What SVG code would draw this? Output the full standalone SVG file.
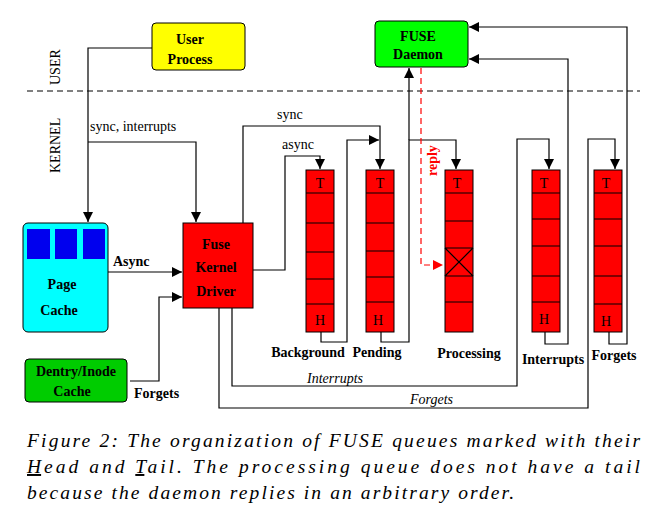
<svg xmlns="http://www.w3.org/2000/svg" width="655" height="520" viewBox="0 0 655 520" font-family="'Liberation Serif', 'DejaVu Serif', serif">
<style>
text{font-family:'Liberation Serif','DejaVu Serif',serif;fill:#000}
.b{font-weight:bold;font-size:14px}
.lbl{font-size:14px}
.it{font-style:italic;font-size:14px}
.cap{font-style:italic;font-size:19.5px}
.ln{fill:none;stroke:#000;stroke-width:1.2}
.q{fill:#ff0000;stroke:#000;stroke-width:1}
.qt{font-size:14px;text-anchor:middle}
</style>
<defs>
<marker id="a" viewBox="0 0 10 10" refX="10" refY="5" markerWidth="10" markerHeight="10" markerUnits="userSpaceOnUse" orient="auto"><path d="M0,0L10,5L0,10z" fill="#000"/></marker>
<marker id="r" viewBox="0 0 10 10" refX="10" refY="5" markerWidth="10" markerHeight="10" markerUnits="userSpaceOnUse" orient="auto"><path d="M0,0L10,5L0,10z" fill="#f00"/></marker>
</defs>
<rect width="655" height="520" fill="#fff"/>
<line x1="27" y1="91" x2="640" y2="91" stroke="#000" stroke-dasharray="6,4"/>
<text class="lbl" transform="translate(60,85) rotate(-90)">USER</text>
<text class="lbl" transform="translate(60,173) rotate(-90)">KERNEL</text>
<g id="connectors">
<path class="ln" d="M152,48H88V222" marker-end="url(#a)"/>
<path class="ln" d="M88,142H196V222" marker-end="url(#a)"/>
<path class="ln" d="M108,272H182" marker-end="url(#a)"/>
<path class="ln" d="M130,381H159V297H182" marker-end="url(#a)"/>
<path class="ln" d="M243,223V126H380V169" marker-end="url(#a)"/>
<path class="ln" d="M253,270H285V156H320V169" marker-end="url(#a)"/>
<path class="ln" d="M321,332V342H347V140H379" marker-end="url(#a)"/>
<path class="ln" d="M381,332V342H409V140H456V169" marker-end="url(#a)"/>
<path class="ln" d="M409,140V68" marker-end="url(#a)"/>
<path class="ln" d="M232,308V386H517V139H549V169" marker-end="url(#a)"/>
<path class="ln" d="M219,308V408H588V139H615V169" marker-end="url(#a)"/>
<path class="ln" d="M545,332V344H568V59H469" marker-end="url(#a)"/>
<path class="ln" d="M609,332V344H627V27H469" marker-end="url(#a)"/>
<path d="M421,68V265H443" fill="none" stroke="#f00" stroke-width="1.2" stroke-dasharray="6,4" marker-end="url(#r)"/>
<text transform="translate(437,176) rotate(-90)" style="font-weight:bold;font-size:14px;fill:#f00">reply</text>
<text class="b" x="113" y="266">Async</text>
<text class="b" x="134" y="398">Forgets</text>
<text class="lbl" x="90" y="131">sync, interrupts</text>
<text class="lbl" x="277" y="119">sync</text>
<text class="lbl" x="282" y="149">async</text>
<text class="it" x="307" y="383">Interrupts</text>
<text class="it" x="410" y="404">Forgets</text>
</g>
<g id="user-process">
<rect x="152" y="23" width="93" height="47" rx="4" fill="#ffff00" stroke="#000"/>
<text class="b" x="190" y="44" text-anchor="middle">User</text>
<text class="b" x="190" y="64" text-anchor="middle">Process</text>
</g>
<g id="fuse-daemon">
<rect x="375" y="21" width="93" height="46" rx="4" fill="#00ff00" stroke="#000"/>
<text class="b" x="418" y="41" text-anchor="middle">FUSE</text>
<text class="b" x="418" y="59" text-anchor="middle">Daemon</text>
</g>
<g id="page-cache">
<rect x="23" y="223" width="85" height="109" rx="5" fill="#00ffff" stroke="#000"/>
<rect x="27" y="229" width="23" height="30" fill="#0000ee"/>
<rect x="55" y="229" width="22" height="30" fill="#0000ee"/>
<rect x="83" y="229" width="22" height="30" fill="#0000ee"/>
<text class="b" x="62" y="289" text-anchor="middle">Page</text>
<text class="b" x="59" y="315" text-anchor="middle">Cache</text>
</g>
<g id="driver">
<rect x="183" y="223" width="70" height="85" fill="#ff0000" stroke="#000"/>
<text class="b" x="216" y="249" text-anchor="middle">Fuse</text>
<text class="b" x="216" y="272" text-anchor="middle">Kernel</text>
<text class="b" x="216" y="296" text-anchor="middle">Driver</text>
</g>
<g id="dentry">
<rect x="25" y="359" width="102" height="43" rx="4" fill="#00cc00" stroke="#000"/>
<text class="b" x="76" y="376" text-anchor="middle">Dentry/Inode</text>
<text class="b" x="72" y="396" text-anchor="middle">Cache</text>
</g>
<g id="q-background">
<rect class="q" x="306" y="170" width="28" height="162"/>
<path class="ln" d="M306,193H334M306,223H334M306,252H334M306,279H334M306,304H334"/>
<text class="qt" x="320" y="188">T</text><text class="qt" x="320" y="325">H</text>
<text class="b" x="308" y="357" text-anchor="middle">Background</text>
</g>
<g id="q-pending">
<rect class="q" x="366" y="170" width="28" height="162"/>
<path class="ln" d="M366,193H394M366,223H394M366,251H394M366,277H394M366,302H394"/>
<text class="qt" x="380" y="188">T</text><text class="qt" x="378" y="325">H</text>
<text class="b" x="377" y="357" text-anchor="middle">Pending</text>
</g>
<g id="q-processing">
<rect class="q" x="445" y="170" width="28" height="162"/>
<path class="ln" d="M445,193H473M445,221H473M445,248H473M445,276H473M445,302H473M445,248L473,276M473,248L445,276"/>
<text class="qt" x="457" y="188">T</text>
<text class="b" x="469" y="358" text-anchor="middle">Processing</text>
</g>
<g id="q-interrupts">
<rect class="q" x="532" y="170" width="28" height="162"/>
<path class="ln" d="M532,193H560M532,219H560M532,246H560M532,276H560M532,302H560"/>
<text class="qt" x="544" y="188">T</text><text class="qt" x="544" y="324">H</text>
<text class="b" x="553" y="364" text-anchor="middle">Interrupts</text>
</g>
<g id="q-forgets">
<rect class="q" x="594" y="170" width="28" height="162"/>
<path class="ln" d="M594,193H622M594,219H622M594,246H622M594,276H622M594,304H622"/>
<text class="qt" x="606" y="188">T</text><text class="qt" x="606" y="326">H</text>
<text class="b" x="614" y="360" text-anchor="middle">Forgets</text>
</g>
<g id="caption">
<text class="cap" x="27" y="447" textLength="613" lengthAdjust="spacing">Figure 2: The organization of FUSE queues marked with their</text>
<text class="cap" x="27" y="473" textLength="613" lengthAdjust="spacing"><tspan text-decoration="underline">H</tspan>ead and <tspan text-decoration="underline">T</tspan>ail.  The processing queue does not have a tail</text>
<text class="cap" x="27" y="499" textLength="487" lengthAdjust="spacing">because the daemon replies in an arbitrary order.</text>
</g>
</svg>
